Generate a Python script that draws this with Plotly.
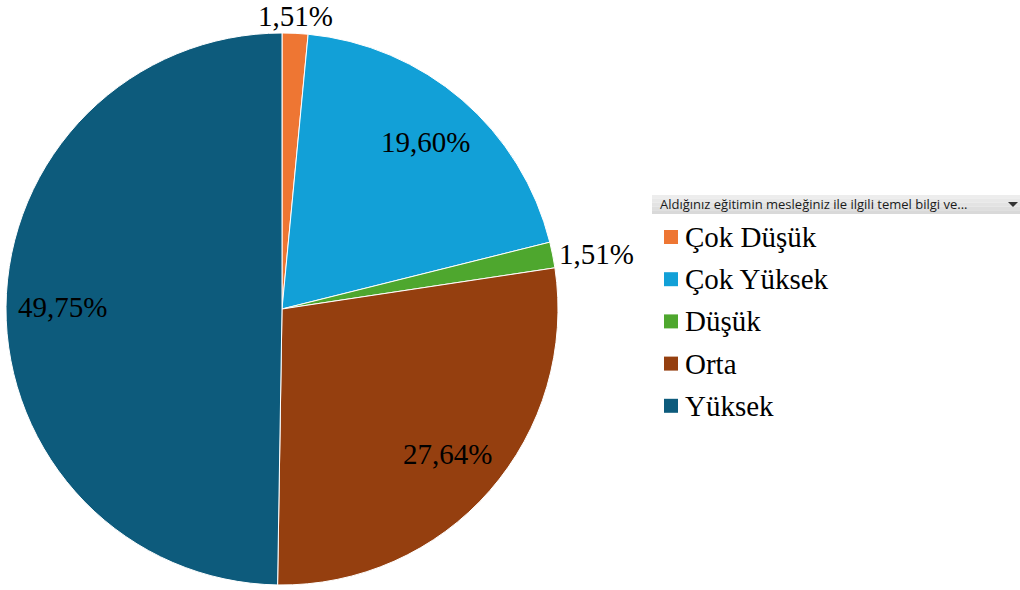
import math
import plotly.graph_objects as go

categories = ["Çok Düşük", "Çok Yüksek", "Düşük", "Orta", "Yüksek"]
values = [1.51, 19.60, 1.51, 27.64, 49.75]
colors = ["#EE7633", "#12A0D7", "#4EA72E", "#953F0F", "#0D5B7C"]
label_inside = [False, True, False, True, True]
header_text = "Aldığınız eğitimin mesleğiniz ile ilgili temel bilgi ve..."

W, H = 1020, 590
cx, cy, r = 282, 309, 276

def px(x):
    return x / W

def py(y):
    return 1 - y / H

fig = go.Figure()
fig.add_trace(go.Pie(
    labels=categories,
    values=values,
    sort=False,
    direction="clockwise",
    rotation=0,
    marker=dict(colors=colors, line=dict(color="white", width=1)),
    textinfo="none",
    domain=dict(x=[px(cx - r), px(cx + r)], y=[py(cy + r), py(cy - r)]),
    showlegend=False,
    hoverinfo="label+percent",
))

shapes = []
annotations = []

# slice labels placed at each slice's mid-angle (derived from the values)
total = sum(values)
cum = 0.0
label_font = dict(family="Liberation Serif", size=29, color="black")
for v, inside in zip(values, label_inside):
    mid = (cum + v / 2) / total * 2 * math.pi
    cum += v
    s, c = math.sin(mid), math.cos(mid)
    txt = f"{v:.2f}".replace(".", ",") + "%"
    if inside:
        rr = 0.797 * r
        xa, ya = "center", "middle"
    else:
        if abs(s) > abs(c):
            rr = r + 4
            xa, ya = ("left" if s > 0 else "right"), "middle"
        else:
            rr = r + 17
            xa, ya = "center", "middle"
    annotations.append(dict(text=txt, xref="paper", yref="paper",
                            x=px(cx + rr * s), y=py(cy - rr * c),
                            xanchor=xa, yanchor=ya,
                            showarrow=False, font=label_font))

# legend header bar (gradient imitation)
grad = ["#EDEDED", "#E8E8E8", "#E3E3E3", "#DEDEDE", "#D9D9D9"]
top, bot = 195, 214
step = (bot - top) / len(grad)
for i, g in enumerate(grad):
    shapes.append(dict(type="rect", xref="paper", yref="paper",
                       x0=px(652), x1=px(1020),
                       y0=py(top + (i + 1) * step), y1=py(top + i * step),
                       line=dict(width=0), fillcolor=g, layer="below"))
shapes.append(dict(type="path", xref="paper", yref="paper",
                   path=f"M {px(1008)} {py(202)} L {px(1018)} {py(202)} L {px(1013)} {py(207)} Z",
                   line=dict(width=0), fillcolor="#333333"))
annotations.append(dict(text=header_text, xref="paper", yref="paper",
                        x=px(658), y=py(204.5), xanchor="left", yanchor="middle",
                        showarrow=False,
                        font=dict(family="Open Sans", size=13, color="#1A1A1A")))

# legend items
y0, dy = 237, 42.2
for i, (cat, col) in enumerate(zip(categories, colors)):
    yc = y0 + i * dy
    shapes.append(dict(type="rect", xref="paper", yref="paper",
                       x0=px(664), x1=px(678), y0=py(yc + 7), y1=py(yc - 7),
                       line=dict(width=0), fillcolor=col))
    annotations.append(dict(text=cat, xref="paper", yref="paper",
                            x=px(683), y=py(yc), xanchor="left", yanchor="middle",
                            showarrow=False,
                            font=dict(family="Liberation Serif", size=29, color="black")))

fig.update_layout(
    width=W, height=H,
    margin=dict(l=0, r=0, t=0, b=0),
    paper_bgcolor="white",
    plot_bgcolor="white",
    shapes=shapes,
    annotations=annotations,
)

fig.write_html("out.html", config={"displayModeBar": False},
               post_script="document.body.style.margin='0';")
